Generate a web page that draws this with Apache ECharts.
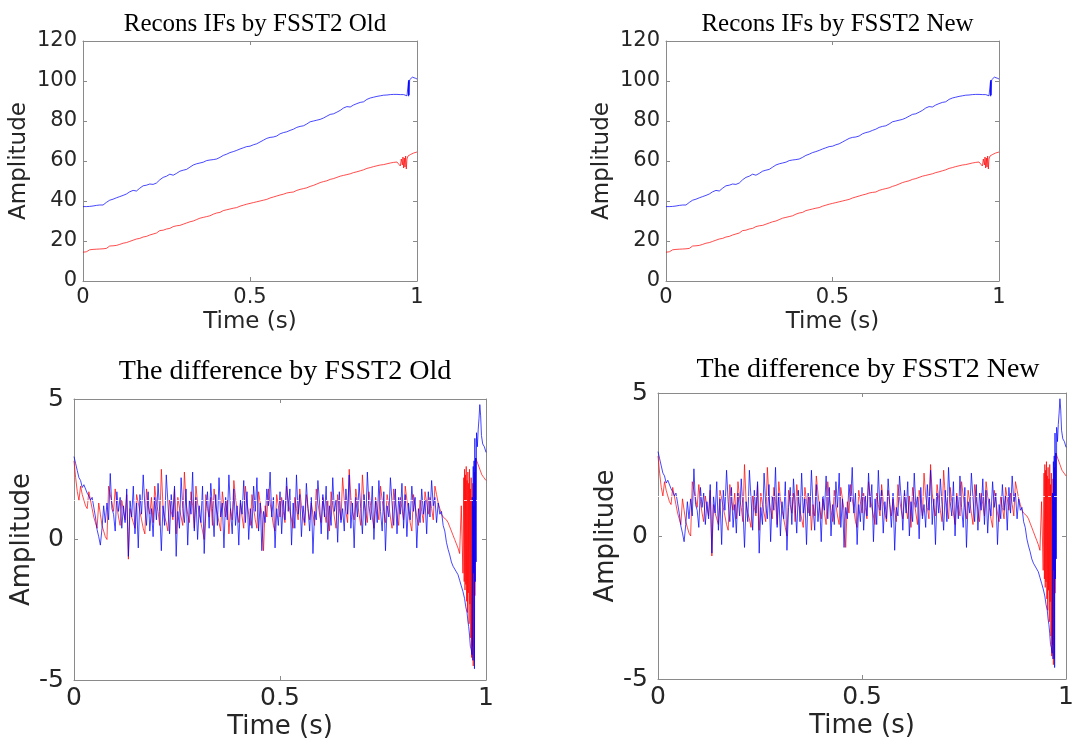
<!DOCTYPE html>
<html><head><meta charset="utf-8">
<script src="https://cdn.jsdelivr.net/npm/echarts/dist/echarts.min.js"></script>
<style>html,body{margin:0;padding:0;background:#fff}#c{width:1077px;height:754px}</style>
</head><body><div id="c"></div>
<script>
// ---------- DATA ----------
const titles = ["Recons IFs by FSST2 Old", "Recons IFs by FSST2 New", "The difference by FSST2 Old", "The difference by FSST2 New"];
const xTickValues = [0, 0.5, 1];
const topYTicks = [0, 20, 40, 60, 80, 100, 120];
const diffYTicks = [-5, 0, 5];

// Top panels: sampled every 0.01 s
const topStep = 0.01;
const topBlueMain = [37.2,37.2,37.3,37.5,37.8,38.0,38.0,39.3,40.4,40.9,41.6,42.2,42.8,43.5,44.6,45.3,45.0,46.4,47.6,47.9,
  48.5,48.3,49.0,50.6,51.8,52.4,53.4,52.9,53.8,54.9,55.4,55.8,56.9,58.0,58.6,59.0,59.4,60.2,60.5,60.7,
  61.0,61.8,62.8,63.4,64.2,64.7,65.3,66.0,66.6,67.2,67.4,68.1,68.6,69.5,70.4,71.3,71.8,72.0,72.5,73.6,
  74.2,74.6,75.3,75.9,76.8,77.3,77.6,78.5,79.6,80.0,80.4,80.8,81.5,82.4,83.3,83.6,84.4,85.3,86.5,87.2,
  87.0,88.0,88.7,89.3,89.6,90.8,91.5,91.9,92.3,92.6,92.9,93.0,93.2,93.3,93.3,93.2,93.2];
const topBlueEndT = [0.970,0.974,0.9745,0.975,0.9755,0.976,0.978,0.982,0.986,0.990,0.995,1.000];
const topBlueEnd  = [92.6,92.2,99.8,92.4,100.5,93.0,100.6,101.2,101.9,102.1,101.4,101.0];
const topRedMain = [14.4,14.6,15.6,15.8,15.9,16.0,16.1,16.3,17.5,17.6,17.8,18.3,18.9,19.2,19.8,20.4,21.0,21.3,22.0,22.3,
  23.0,23.5,24.0,25.2,25.4,26.0,26.3,27.2,27.6,27.8,28.4,29.0,29.6,30.0,30.7,31.4,31.8,32.2,32.6,33.4,
  34.0,34.3,35.2,35.6,36.0,36.4,36.7,37.4,37.9,38.4,38.8,39.2,39.6,40.0,40.4,40.8,41.5,42.0,42.5,43.0,
  43.4,44.0,44.3,44.5,45.3,45.8,46.2,46.6,47.3,47.8,48.5,49.2,49.7,50.1,50.8,51.2,51.8,52.4,52.8,53.2,
  53.6,54.2,54.6,55.1,55.6,56.3,56.7,57.2,57.6,58.0,58.2,58.6,59.0,59.3,59.5];
const topRedEndT = [0.945,0.950,0.953,0.956,0.958,0.960,0.962,0.964,0.966,0.968,0.970,0.973,0.980,0.990,1.000];
const topRedEnd  = [59.8,57.5,61.0,58.0,62.0,56.5,61.5,57.0,62.5,56.0,61.0,62.5,63.2,64.0,64.5];

// Bottom panels (difference): sampled every 0.004 s
const diffStep = 0.004;
const diffBlueMain = [2.95,2.7,2.45,2.2,2.1,1.85,1.95,2.0,1.65,1.55,1.4,1.5,1.15,0.8,0.35,0.1,-0.2,0.4,1.2,0.6,
  1.3,0.7,2.35,1.1,0.9,0.3,1.7,1.0,1.5,0.4,1.2,0.6,1.8,-0.6,1.4,0.8,1.9,0.2,1.3,-0.3,
  1.6,0.9,2.3,1.2,0.5,1.7,0.3,1.1,0.1,1.5,0.7,2.0,1.0,-0.4,1.2,0.5,2.3,1.3,0.2,1.6,
  0.8,1.9,-0.6,1.0,0.4,2.2,1.1,0.6,1.8,-0.2,1.4,0.9,2.4,0.3,1.5,0.0,1.2,0.6,1.9,-0.5,
  1.0,1.7,0.4,2.0,1.1,0.1,1.6,0.5,2.2,0.8,1.3,-0.3,1.5,0.7,2.3,1.0,0.2,1.8,0.5,1.2,
  -0.2,1.4,0.9,2.1,0.6,1.7,0.0,1.1,0.4,1.9,1.0,2.2,0.3,1.3,-0.4,1.0,0.6,1.8,1.2,2.4,
  0.8,1.5,-0.3,1.1,0.5,1.7,0.2,1.4,0.7,2.2,1.0,1.8,-0.2,1.3,0.4,2.3,0.9,1.6,0.1,1.2,
  0.6,2.0,1.1,0.3,1.5,-0.5,1.0,0.7,2.1,1.3,0.2,1.6,0.8,1.9,0.0,1.2,0.5,2.2,1.0,1.4,
  -0.1,1.7,0.6,1.1,0.3,1.8,0.9,2.3,0.4,1.3,-0.3,1.5,0.8,2.0,1.1,0.2,1.6,0.5,2.4,1.2,
  0.7,1.9,0.0,1.4,0.6,2.1,1.0,0.3,1.7,-0.4,1.2,0.8,2.2,1.3,0.5,1.8,0.2,1.5,0.9,2.0,
  0.4,1.6,0.1,1.3,0.7,1.9,1.0,1.5,-0.3,1.1,0.6,1.8,0.9,1.4,0.2,1.7,0.8,2.1,1.2,1.5,
  0.6,1.3,0.9,1.0,0.5,0.3,-0.1,-0.35,-0.55,-0.8,-0.95,-1.05,-1.15,-1.25,-1.45,-1.65,-1.85];
const diffBlueEndT = [0.948,0.951,0.954,0.956,0.958,0.960,0.962,0.964,0.966,0.967,0.968,0.969,0.970,0.971,0.972,0.973,0.974,0.975,0.976,0.977,0.979,0.981,0.983,0.985,0.987,0.989,0.992,0.996,1.000];
const diffBlueEnd  = [-2.1,-2.4,-2.6,-2.9,-3.1,-3.4,-3.8,-3.9,-4.1,1.5,-4.3,2.6,-1.2,2.8,-4.6,3.6,-1.5,2.9,-0.8,3.8,3.3,3.9,4.3,4.8,4.4,3.7,3.4,3.3,3.1];
const diffRedMain = [2.8,2.2,1.7,1.4,1.9,1.6,1.4,1.2,1.1,1.7,1.4,1.1,0.8,0.6,0.4,1.3,0.9,0.5,0.3,0.1,
  0.0,1.9,1.6,1.3,1.0,1.8,1.2,0.8,0.5,1.4,1.0,0.7,1.6,-0.7,1.1,0.8,0.6,0.4,1.6,1.3,
  1.0,0.7,0.4,0.2,1.8,1.2,0.9,1.5,0.6,1.9,1.3,1.0,0.5,2.5,1.2,0.8,0.6,0.3,1.4,1.0,
  0.7,1.8,0.2,1.5,1.1,0.8,0.5,2.4,1.3,0.9,0.6,1.7,1.2,0.4,1.9,1.3,0.9,0.6,0.3,0.0,
  1.6,1.1,0.8,1.5,0.5,1.8,1.2,0.9,0.6,0.3,1.7,1.2,0.8,1.4,0.2,1.1,0.7,2.1,1.5,1.0,
  0.6,1.3,0.8,0.4,1.9,1.3,0.9,0.5,1.6,1.1,0.7,0.4,1.7,1.3,0.9,-0.4,1.2,0.8,1.8,1.3,
  0.9,0.5,0.3,1.6,1.2,0.8,1.5,1.0,0.6,1.9,1.4,1.0,0.7,0.4,1.5,1.1,0.7,1.8,1.2,0.8,
  0.5,1.6,1.1,0.7,1.3,0.9,0.5,1.8,1.3,0.9,0.6,1.5,1.0,0.6,1.4,0.3,1.7,1.2,0.8,0.4,
  1.6,1.1,0.7,2.2,1.4,1.0,0.6,2.5,1.5,1.0,0.7,1.8,1.3,0.9,0.5,2.3,1.4,1.0,0.6,1.7,
  1.2,0.8,0.4,1.5,1.1,0.7,1.9,1.4,1.0,0.6,1.6,1.2,0.8,0.4,1.8,1.3,0.9,0.5,1.5,1.1,
  0.7,1.9,1.4,1.0,0.6,0.3,1.6,1.2,0.8,0.5,1.4,1.0,0.6,1.7,1.3,0.9,1.5,1.1,0.7,1.9,
  1.6,1.3,1.1,0.9,0.8,0.8,0.7,0.6,0.45,0.3,0.15,0.0,-0.15,-0.3,-0.5,1.2,-1.2];
const diffRedEndT = [0.946,0.947,0.948,0.949,0.950,0.951,0.952,0.953,0.954,0.955,0.956,0.957,0.958,0.959,0.960,0.961,0.962,0.963,0.964,0.965,0.966,0.967,0.968,0.969,0.970,0.971,0.972,0.973,0.975,0.980,0.985,0.990,0.995,1.000];
const diffRedEnd  = [2.2,-1.5,2.5,-1.8,2.3,-1.6,2.6,-2.2,2.1,-2.6,2.4,-1.9,2.0,-3.0,2.5,-2.3,1.8,-3.5,2.2,-4.2,1.5,-3.8,2.0,-4.5,1.2,-4.3,2.4,-2.0,2.9,2.7,2.5,2.3,2.2,2.1];

// ---------- BUILD ----------
function build(step, main, endT, endV) {
  const out = main.map((v, i) => [+(i * step).toFixed(4), v]);
  endT.forEach((t, i) => out.push([t, endV[i]]));
  return out;
}
const topBlue = build(topStep, topBlueMain, topBlueEndT, topBlueEnd);
const topRed = build(topStep, topRedMain, topRedEndT, topRedEnd);
const diffBlue = build(diffStep, diffBlueMain, diffBlueEndT, diffBlueEnd);
const diffRed = build(diffStep, diffRedMain, diffRedEndT, diffRedEnd);

const grids = [
  {left: 83, top: 41, width: 334, height: 240},
  {left: 666, top: 41, width: 333, height: 240},
  {left: 74, top: 399, width: 412, height: 281},
  {left: 658, top: 393, width: 410, height: 286}
];
const AX = '#8a8a8a', TXT = '#262626', SANS = 'DejaVu Sans', SERIF = 'Liberation Serif';

const xAxes = [], yAxes = [], series = [], titleOpts = [];
grids.forEach((g, gi) => {
  const isTop = gi < 2;
  const yt = isTop ? topYTicks : diffYTicks;
  const tickFs = isTop ? 21 : 25;
  const nameFs = isTop ? 23 : 26;
  const common = {
    gridIndex: gi, type: 'value', min: xTickValues[0], max: xTickValues[xTickValues.length - 1],
    interval: xTickValues[1] - xTickValues[0],
    axisLine: {show: true, onZero: false, lineStyle: {color: AX, width: 1}},
    axisTick: {show: true, inside: true, length: 4, lineStyle: {color: AX}},
    splitLine: {show: false}
  };
  xAxes.push(Object.assign({}, common, {
    position: 'bottom',
    axisLabel: {color: TXT, fontSize: tickFs, fontFamily: SANS, margin: 6, showMinLabel: true, showMaxLabel: true,
      formatter: v => String(v)},
    name: 'Time (s)', nameLocation: 'middle', nameGap: isTop ? 30 : 34,
    nameTextStyle: {color: TXT, fontSize: nameFs, fontFamily: SANS}
  }));
  xAxes.push(Object.assign({}, common, {position: 'top', axisLabel: {show: false}}));
  const ycommon = {
    gridIndex: gi, type: 'value', min: yt[0], max: yt[yt.length - 1], interval: yt[1] - yt[0],
    axisLine: {show: true, onZero: false, lineStyle: {color: AX, width: 1}},
    axisTick: {show: true, inside: true, length: 4, lineStyle: {color: AX}},
    splitLine: {show: false}
  };
  yAxes.push(Object.assign({}, ycommon, {
    position: 'left',
    axisLabel: {color: TXT, fontSize: tickFs, fontFamily: SANS, margin: isTop ? 6 : 10, showMinLabel: true, showMaxLabel: true},
    name: 'Amplitude', nameLocation: 'middle', nameGap: isTop ? 52 : 36,
    nameTextStyle: {color: TXT, fontSize: nameFs, fontFamily: SANS}
  }));
  yAxes.push(Object.assign({}, ycommon, {position: 'right', axisLabel: {show: false}}));

  titleOpts.push({
    text: titles[gi], left: g.left + g.width / 2, textAlign: 'center',
    top: isTop ? 7 : (gi === 2 ? 353 : 351),
    textStyle: {fontFamily: SERIF, fontWeight: 'normal', fontSize: isTop ? 25 : 28, color: '#000'}
  });

  const red = isTop ? topRed : diffRed;
  const blue = isTop ? topBlue : diffBlue;
  const base = {type: 'line', xAxisIndex: gi * 2, yAxisIndex: gi * 2, showSymbol: false, symbol: 'none',
    animation: false, silent: true, sampling: null};
  series.push(Object.assign({}, base, {data: red, lineStyle: {color: '#ff0000', width: 1, opacity: 0.7}, z: 2}));
  const bs = Object.assign({}, base, {data: blue, lineStyle: {color: '#0000ff', width: 1, opacity: 0.72}, z: 3});
  if (!isTop) {
    bs.markLine = {silent: true, symbol: 'none', label: {show: false}, animation: false,
      lineStyle: {color: 'rgba(255,255,255,0.8)', type: [3, 3], width: 1}, data: [{yAxis: 1.4}]};
  }
  series.push(bs);
});

const chart = echarts.init(document.getElementById('c'), null, {renderer: 'canvas'});
chart.setOption({
  animation: false,
  backgroundColor: '#ffffff',
  title: titleOpts,
  grid: grids.map(g => Object.assign({containLabel: false}, g)),
  xAxis: xAxes, yAxis: yAxes, series: series
});
</script>
</body></html>
